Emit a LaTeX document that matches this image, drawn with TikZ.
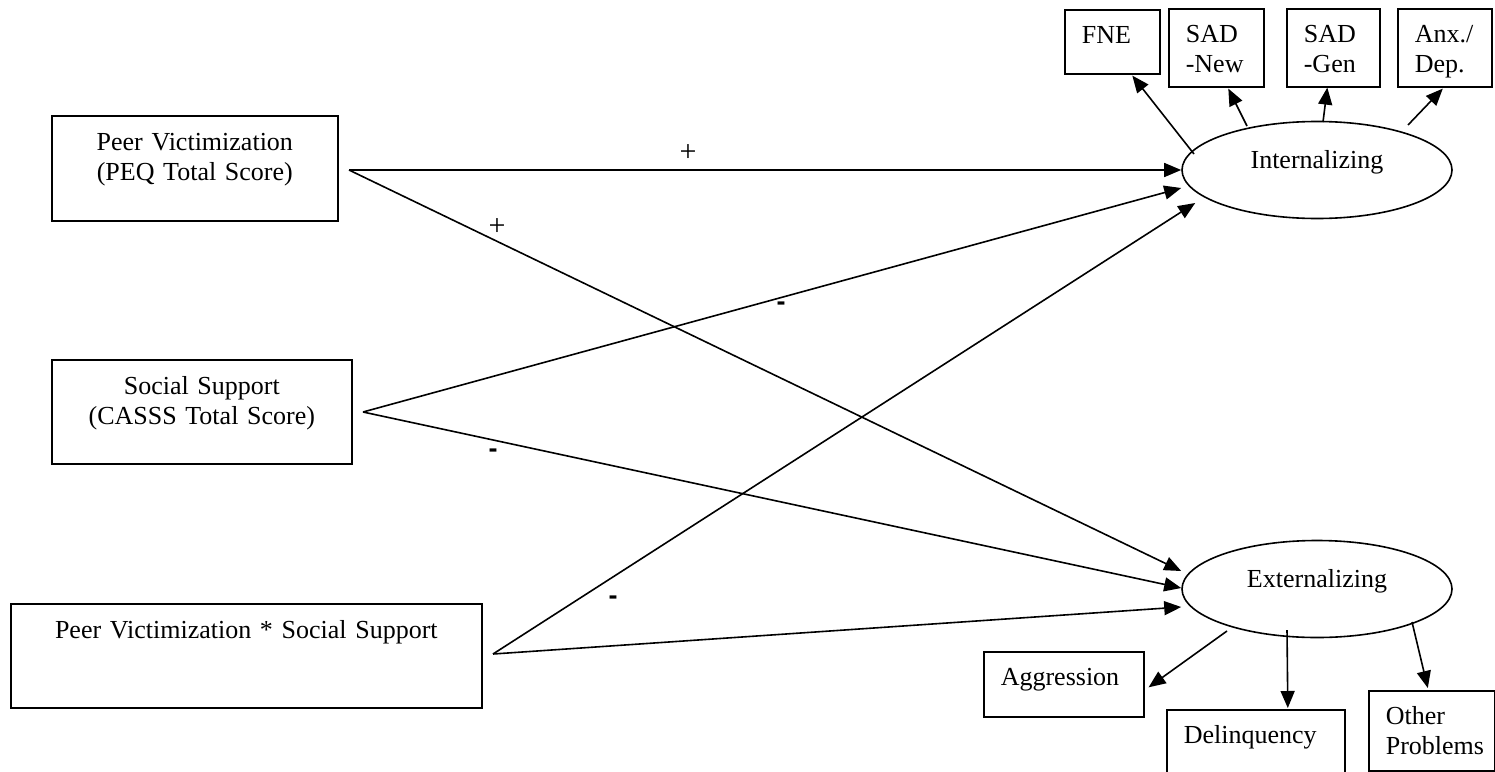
\documentclass[tikz,border=0pt]{standalone}
\usepackage{fontspec}
\setmainfont{Liberation Serif}
\newfontfamily\signfont{Liberation Sans}
\usetikzlibrary{shapes.geometric,arrows.meta,calc}

\begin{document}
\begin{tikzpicture}[x=1pt,y=-1pt,line width=1.6pt,
  font=\fontsize{26}{30}\selectfont,
  srcbox/.style={draw,anchor=north west,inner xsep=8pt,inner ysep=0pt,align=center,text height=35pt},
  indbox/.style={draw,anchor=north west,inner xsep=17pt,inner ysep=0pt,align=left,text height=34pt},
  factor/.style={draw,ellipse,inner sep=0pt,minimum width=270pt,minimum height=97pt,text height=8pt,text depth=12pt},
  effect/.style={-{Triangle[length=17pt,width=14pt]}},
  plussign/.style={inner sep=0pt,font=\fontsize{30}{30}\selectfont},
  minussign/.style={inner sep=0pt,font=\signfont\bfseries\fontsize{27}{30}\selectfont}]
\useasboundingbox (0,0) rectangle (1495,771);

% predictors
\node[srcbox,text width=270pt,text depth=70pt] (pv) at (51,115) {Peer Victimization\\(PEQ Total Score)};
\node[srcbox,text width=284pt,text depth=69pt] (ss) at (51,359) {Social Support\\(CASSS Total Score)};
\node[srcbox,text width=455pt,text depth=69pt] (pvss) at (10,603) {Peer Victimization * Social Support};
\coordinate (pvout) at (349,170);
\coordinate (ssout) at (363,412);
\coordinate (pvssout) at (493,654);

% latent factors
\node[factor] (int) at (1317,170) {Internalizing};
\node[factor] (ext) at (1317,589) {Externalizing};

% indicators
\node[indbox,text width=61pt,text depth=30pt] (fne) at (1064,9) {FNE};
\node[indbox,text width=61pt,text depth=44pt] (sadnew) at (1168,8) {SAD\\-New};
\node[indbox,text width=59pt,text depth=44pt] (sadgen) at (1286,8) {SAD\\-Gen};
\node[indbox,text width=60pt,text depth=44pt] (anx) at (1397,8) {Anx./\\Dep.};
\node[indbox,text width=126pt,text depth=31pt] (aggr) at (983,651) {Aggression};
\node[indbox,text width=144pt,text depth=40pt] (delinq) at (1166,709) {Delinquency};
\node[indbox,text width=92pt,text depth=46pt] (other) at (1368,690) {Other\\Problems};

% paths
\draw[effect] (pvout) -- (int.west);
\draw[effect] (pvout) -- ($(ext.west)+(0,-18)$);
\draw[effect] (ssout) -- ($(int.west)+(0,18)$);
\draw[effect] (ssout) -- ($(ext.west)+(0,-1)$);
\draw[effect] (pvssout) -- ($(int.west)+(14,33)$);
\draw[effect] (pvssout) -- ($(ext.west)+(0,18)$);

% loadings
\draw[effect] ($(int.center)+(-123,-16)$) -- ($(fne.south)+(20,1)$);
\draw[effect] ($(int.center)+(-70,-44)$) -- ($(sadnew.south)+(12,1)$);
\draw[effect] ($(int.center)+(6,-48)$) -- ($(sadgen.south)+(-6,0)$);
\draw[effect] ($(int.center)+(91,-45)$) -- ($(anx.south)+(-2,1)$);
\draw[effect] ($(ext.center)+(-90,42)$) -- ($(aggr.east)+(4,3)$);
\draw[effect] ($(ext.center)+(-30,41)$) -- ($(delinq.north)+(32,-1)$);
\draw[effect] ($(ext.center)+(95,33)$) -- ($(other.north)+(-4,-2)$);

% signs
\node[plussign] (pvint) at (688,153) {+};
\node[plussign] (pvext) at (497,227) {+};
\node[minussign] (ssint) at (781,306) {-};
\node[minussign] (ssext) at (493,453) {-};
\node[minussign] (pvssint) at (613,600) {-};
\end{tikzpicture}
\end{document}
